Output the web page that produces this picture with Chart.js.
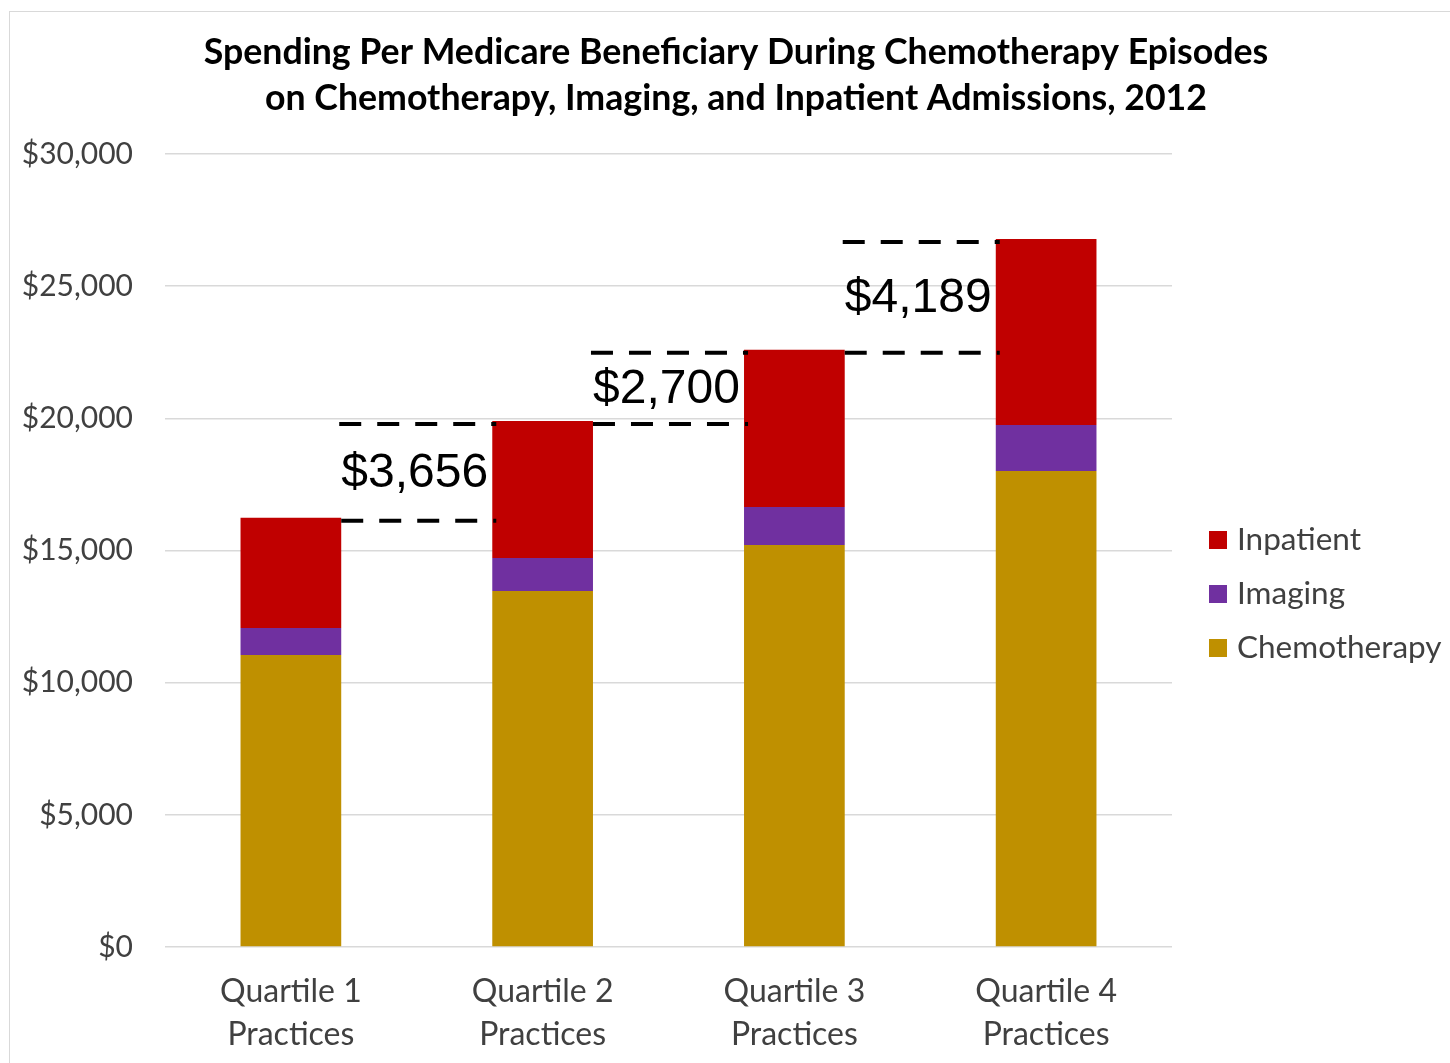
<!DOCTYPE html>
<html>
<head>
<meta charset="utf-8">
<title>Spending Per Medicare Beneficiary</title>
<script src="https://cdn.jsdelivr.net/npm/chart.js@4/dist/chart.umd.min.js"></script>
<style>
  html, body { margin: 0; padding: 0; background: #ffffff; }
  #wrap { width: 1450px; height: 1063px; position: relative; }
</style>
</head>
<body>
<div id="wrap"><canvas id="chart" width="1450" height="1063"></canvas></div>
<script>
// Categories (practice spending quartiles)
const categories = [["Quartile 1", "Practices"], ["Quartile 2", "Practices"], ["Quartile 3", "Practices"], ["Quartile 4", "Practices"]];

// Spending per beneficiary, in dollars
const chemotherapy = [11050, 13470, 15210, 18010];
const imaging      = [1020, 1250, 1440, 1740];
const inpatient    = [4170, 5176, 5946, 7035];

// Y-axis ticks
const yTicks = [0, 5000, 10000, 15000, 20000, 25000, 30000];

const titleLines = [
  "Spending Per Medicare Beneficiary During Chemotherapy Episodes",
  "on Chemotherapy, Imaging, and Inpatient Admissions, 2012"
];

const colors = { chemo: "#BF9000", imaging: "#7030A0", inpatient: "#C00000" };
const uiFont = "Lato";

const totals = categories.map((_, i) => chemotherapy[i] + imaging[i] + inpatient[i]);

function money(v) {
  return "$" + v.toLocaleString("en-US");
}

// White background, light frame and the two-line heading
const framePlugin = {
  id: "frame",
  beforeDraw(chart) {
    const ctx = chart.ctx;
    ctx.save();
    ctx.fillStyle = "#ffffff";
    ctx.fillRect(0, 0, chart.width, chart.height);
    ctx.strokeStyle = "#d9d9d9";
    ctx.lineWidth = 1;
    ctx.strokeRect(9.5, 11.5, chart.width + 20, chart.height + 20);
    ctx.fillStyle = "#000000";
    ctx.font = "bold 35.7px " + uiFont;
    ctx.textAlign = "center";
    ctx.textBaseline = "middle";
    titleLines.forEach((t, k) => ctx.fillText(t, 736, 52 + k * 46));
    ctx.restore();
  }
};

// Dashed step lines between neighbouring totals with the increase labelled
const stepPlugin = {
  id: "steps",
  afterDatasetsDraw(chart) {
    const ctx = chart.ctx;
    const y = chart.scales.y;
    const meta = chart.getDatasetMeta(2);
    ctx.save();
    ctx.strokeStyle = "#000000";
    ctx.lineWidth = 4;
    ctx.setLineDash([22, 16]);
    for (let i = 0; i < totals.length - 1; i++) {
      const a = meta.data[i], b = meta.data[i + 1];
      const x0 = a.x + a.width / 2;
      const x1 = b.x - b.width / 2;
      const yLow = y.getPixelForValue(totals[i]) + 3;
      const yHigh = y.getPixelForValue(totals[i + 1]) + 3;
      ctx.beginPath();
      ctx.moveTo(x0, yLow); ctx.lineTo(x1 + 4, yLow);
      ctx.moveTo(x0 - 2, yHigh); ctx.lineTo(x1 + 4, yHigh);
      ctx.stroke();
      ctx.fillStyle = "#000000";
      ctx.font = "48px 'Liberation Sans', Arial, sans-serif";
      ctx.textAlign = "center";
      ctx.textBaseline = "middle";
      ctx.fillText(money(totals[i + 1] - totals[i]), (x0 + x1) / 2 - 2, (yLow + yHigh) / 2 + 1);
    }
    ctx.restore();
  }
};

// Legend on the right, top series first
const legendPlugin = {
  id: "sideLegend",
  afterDraw(chart) {
    const ctx = chart.ctx;
    const ds = chart.data.datasets.slice().reverse();
    ctx.save();
    ctx.font = "31.5px " + uiFont;
    ctx.textBaseline = "middle";
    ctx.textAlign = "left";
    ds.forEach((d, k) => {
      const cy = 540 + k * 54;
      ctx.fillStyle = d.backgroundColor;
      ctx.fillRect(1209, cy - 9, 18, 18);
      ctx.fillStyle = "#404040";
      ctx.fillText(d.label, 1237, cy);
    });
    ctx.restore();
  }
};

new Chart(document.getElementById("chart"), {
  type: "bar",
  data: {
    labels: categories,
    datasets: [
      { label: "Chemotherapy", data: chemotherapy, backgroundColor: colors.chemo },
      { label: "Imaging", data: imaging, backgroundColor: colors.imaging },
      { label: "Inpatient", data: inpatient, backgroundColor: colors.inpatient }
    ]
  },
  options: {
    responsive: false,
    animation: false,
    devicePixelRatio: 1,
    layout: { padding: { left: 0, right: 278, top: 154, bottom: 0 } },
    datasets: { bar: { barPercentage: 0.4, categoryPercentage: 1.0 } },
    plugins: {
      legend: { display: false },
      tooltip: { enabled: false },
      title: { display: false }
    },
    scales: {
      x: {
        stacked: true,
        grid: { display: false, drawTicks: false },
        border: { display: false },
        ticks: {
          color: "#404040",
          font: { family: uiFont, size: 32, lineHeight: 1.34 },
          padding: 23,
          maxRotation: 0
        },
        afterFit(scale) { scale.height = 1063 - 947; }
      },
      y: {
        stacked: true,
        min: 0,
        max: 30000,
        afterBuildTicks(scale) { scale.ticks = yTicks.map(v => ({ value: v })); },
        grid: { color: "#d9d9d9", lineWidth: 1.5, drawTicks: false },
        border: { display: false },
        ticks: {
          color: "#404040",
          font: { family: uiFont, size: 30 },
          padding: 32,
          callback: v => money(v)
        },
        afterFit(scale) { scale.width = 165; }
      }
    }
  },
  plugins: [framePlugin, stepPlugin, legendPlugin]
});
</script>
</body>
</html>
